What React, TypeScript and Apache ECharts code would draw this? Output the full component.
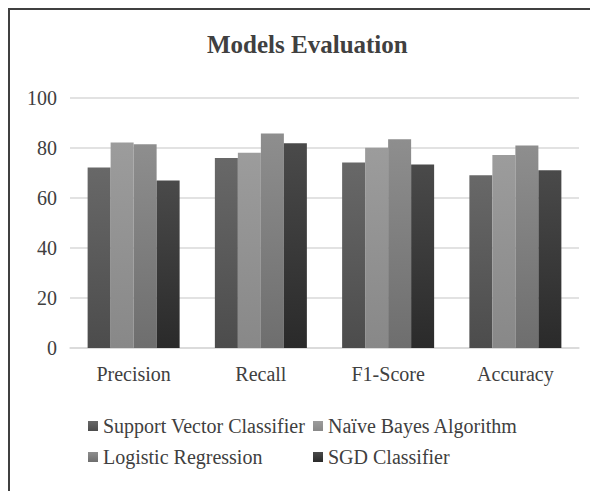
import React, { useEffect, useRef } from "react";
import * as echarts from "echarts";

const categories = ["Precision", "Recall", "F1-Score", "Accuracy"];
const seriesNames = [
  "Support Vector Classifier",
  "Naïve Bayes Algorithm",
  "Logistic Regression",
  "SGD Classifier",
];
const svcValues = [72.2, 76.0, 74.2, 69.1];
const nbValues = [82.2, 78.1, 80.1, 77.2];
const lrValues = [81.5, 85.8, 83.5, 81.0];
const sgdValues = [67.0, 81.9, 73.4, 71.1];
const yTicks = [0, 20, 40, 60, 80, 100];

const FONT = "Liberation Serif";

const grad = (top: string, bottom: string) =>
  new echarts.graphic.LinearGradient(0, 0, 0, 1, [
    { offset: 0, color: top },
    { offset: 1, color: bottom },
  ]);

export default function App() {
  const ref = useRef<HTMLDivElement>(null);
  useEffect(() => {
    if (!ref.current) return;
    const chart = echarts.init(ref.current, undefined, { renderer: "svg" });
    const values = [svcValues, nbValues, lrValues, sgdValues];
    const colors = [
      grad("#686868", "#4c4c4c"),
      grad("#9c9c9c", "#888888"),
      grad("#8e8e8e", "#6e6e6e"),
      grad("#4a4a4a", "#2a2a2a"),
    ];
    const legendPos = [
      { left: 80, top: 408 },
      { left: 305, top: 408 },
      { left: 80, top: 439 },
      { left: 305, top: 439 },
    ];
    chart.setOption({
      animation: false,
      backgroundColor: "#ffffff",
      textStyle: { fontFamily: FONT },
      title: {
        text: "Models Evaluation",
        left: 199,
        top: 24,
        padding: 0,
        textStyle: {
          fontFamily: FONT,
          fontSize: 25,
          fontWeight: "bold",
          color: "#404040",
        },
      },
      legend: seriesNames.map((n, i) => ({
        data: [n],
        left: legendPos[i].left,
        top: legendPos[i].top,
        padding: 0,
        itemWidth: 10,
        itemHeight: 10,
        icon: "rect",
        selectedMode: false,
        textStyle: { fontFamily: FONT, fontSize: 20, color: "#404040" },
      })),
      graphic: [
        {
          type: "line",
          shape: { x1: 1, y1: 1, x2: 1, y2: 483 },
          style: { stroke: "#404040", lineWidth: 2 },
        },
        {
          type: "line",
          shape: { x1: 0, y1: 1, x2: 590, y2: 1 },
          style: { stroke: "#404040", lineWidth: 2 },
        },
      ],
      grid: { left: 62, right: 19, top: 90, bottom: 143, containLabel: false },
      xAxis: {
        type: "category",
        data: categories,
        axisTick: { show: false },
        axisLine: { lineStyle: { color: "#d9d9d9", width: 1.5 } },
        axisLabel: {
          fontFamily: FONT,
          fontSize: 20,
          color: "#404040",
          margin: 16,
        },
      },
      yAxis: {
        type: "value",
        min: yTicks[0],
        max: yTicks[yTicks.length - 1],
        interval: 20,
        axisLine: { show: false },
        axisTick: { show: false },
        splitLine: { lineStyle: { color: "#d9d9d9", width: 1.5 } },
        axisLabel: {
          fontFamily: FONT,
          fontSize: 20,
          color: "#404040",
          margin: 13,
        },
      },
      series: seriesNames.map((n, i) => ({
        name: n,
        type: "bar",
        data: values[i],
        barGap: "0%",
        barCategoryGap: "27.7%",
        itemStyle: { color: colors[i] },
      })),
    });
    return () => chart.dispose();
  }, []);
  return <div ref={ref} style={{ width: 590, height: 483 }} />;
}
